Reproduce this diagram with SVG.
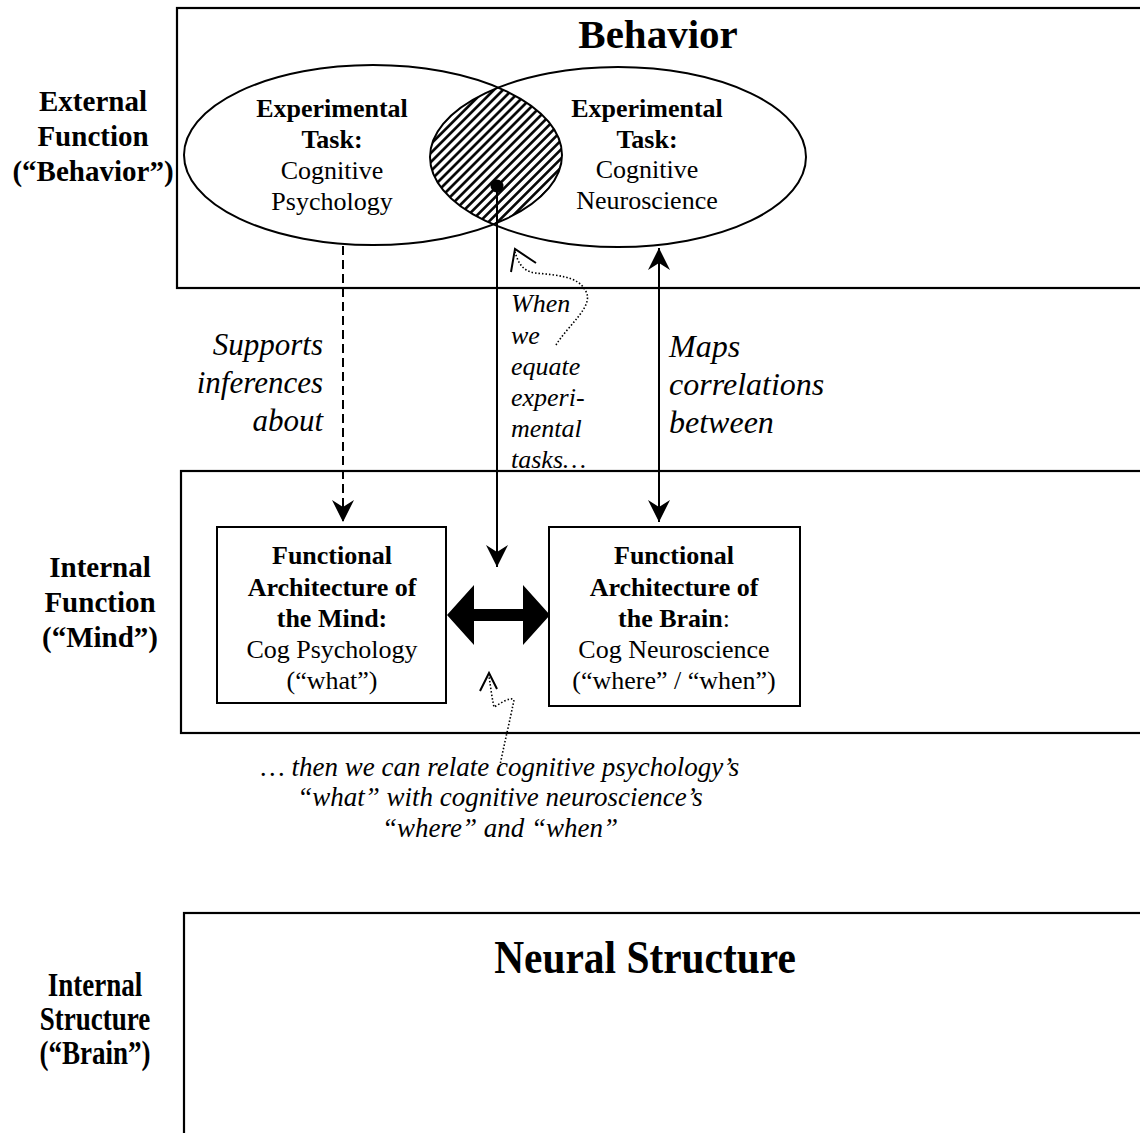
<svg xmlns="http://www.w3.org/2000/svg" width="1140" height="1133" viewBox="0 0 1140 1133">
<style>
  .frame { fill: #fff; stroke: #000; stroke-width: 2.2; }
  .box { fill: #fff; stroke: #000; stroke-width: 2; }
  .ell { fill: none; stroke: #000; stroke-width: 2; }
  .b { font-family: "Liberation Serif", "Times New Roman", serif; font-weight: bold; fill: #000; }
  .r { font-family: "Liberation Serif", "Times New Roman", serif; fill: #000; }
  .i { font-family: "Liberation Serif", "Times New Roman", serif; font-style: italic; fill: #000; }
  .c { text-anchor: middle; }
  .line { fill: none; stroke: #000; stroke-width: 2; }
  .dot { fill: none; stroke: #000; stroke-width: 1.6; stroke-dasharray: 1.5 2; }
</style>
<defs>
  <pattern id="hatch" patternUnits="userSpaceOnUse" width="10" height="6.4" patternTransform="rotate(-45)">
    <rect width="10" height="6.4" fill="#fff"/>
    <line x1="0" y1="3.2" x2="10" y2="3.2" stroke="#000" stroke-width="2.6"/>
  </pattern>
  <clipPath id="leftEll">
    <ellipse cx="373" cy="155" rx="189" ry="90"/>
  </clipPath>
  <marker id="ah" markerUnits="userSpaceOnUse" markerWidth="26" markerHeight="26" viewBox="-24 -12 26 24" refX="0" refY="0" orient="auto-start-reverse">
    <path d="M0,0 L-22,-11 L-15,0 L-22,11 Z" fill="#000"/>
  </marker>
</defs>

<rect width="1140" height="1133" fill="#fff"/>

<!-- Row frames -->
<g id="behavior-frame">
  <rect class="frame" x="177" y="8" width="1000" height="280"/>
  <text class="b c" x="658" y="48" font-size="41">Behavior</text>
</g>
<g id="mind-frame">
  <rect class="frame" x="181" y="471" width="1000" height="262"/>
</g>
<g id="neural-frame">
  <rect class="frame" x="184" y="913" width="1000" height="260"/>
  <text class="b c" x="0" y="0" font-size="46" transform="translate(645 973) scale(0.9 1)">Neural Structure</text>
</g>

<!-- Row labels -->
<g id="label-external">
  <text class="b c" x="93" y="111" font-size="29">External</text>
  <text class="b c" x="93" y="146" font-size="29">Function</text>
  <text class="b c" x="93" y="181" font-size="29">(“Behavior”)</text>
</g>
<g id="label-internal-function">
  <text class="b c" x="100" y="577" font-size="29">Internal</text>
  <text class="b c" x="100" y="612" font-size="29">Function</text>
  <text class="b c" x="100" y="647" font-size="29">(“Mind”)</text>
</g>
<g id="label-internal-structure">
  <text class="b c" font-size="33" transform="translate(95 996) scale(0.82 1)">Internal</text>
  <text class="b c" font-size="33" transform="translate(95 1030) scale(0.82 1)">Structure</text>
  <text class="b c" font-size="33" transform="translate(95 1064) scale(0.82 1)">(“Brain”)</text>
</g>

<!-- Ellipses (Venn) -->
<g id="task-overlap">
  <ellipse cx="618" cy="157" rx="188" ry="90" fill="url(#hatch)" clip-path="url(#leftEll)"/>
</g>
<g id="task-cogpsych">
  <ellipse class="ell" cx="373" cy="155" rx="189" ry="90"/>
  <text class="b c" x="332" y="117" font-size="26">Experimental</text>
  <text class="b c" x="332" y="148" font-size="26">Task:</text>
  <text class="r c" x="332" y="179" font-size="26">Cognitive</text>
  <text class="r c" x="332" y="210" font-size="26">Psychology</text>
</g>
<g id="task-cogneuro">
  <ellipse class="ell" cx="618" cy="157" rx="188" ry="90"/>
  <text class="b c" x="647" y="117" font-size="26">Experimental</text>
  <text class="b c" x="647" y="148" font-size="26">Task:</text>
  <text class="r c" x="647" y="178" font-size="26">Cognitive</text>
  <text class="r c" x="647" y="209" font-size="26">Neuroscience</text>
</g>

<!-- Inner boxes -->
<g id="arch-mind">
  <rect class="box" x="217" y="527" width="229" height="176"/>
  <text class="b c" x="332" y="564" font-size="26">Functional</text>
  <text class="b c" x="332" y="596" font-size="26">Architecture of</text>
  <text class="b c" x="332" y="627" font-size="26">the Mind:</text>
  <text class="r c" x="332" y="658" font-size="26">Cog Psychology</text>
  <text class="r c" x="332" y="689" font-size="26">(“what”)</text>
</g>
<g id="arch-brain">
  <rect class="box" x="549" y="527" width="251" height="179"/>
  <text class="b c" x="674" y="564" font-size="26">Functional</text>
  <text class="b c" x="674" y="596" font-size="26">Architecture of</text>
  <text class="c" x="674" y="627" font-size="26"><tspan class="b">the Brain</tspan><tspan class="r">:</tspan></text>
  <text class="r c" x="674" y="658" font-size="26">Cog Neuroscience</text>
  <text class="r c" x="674" y="689" font-size="26">(“where” / “when”)</text>
</g>

<!-- Connectors -->
<g id="connectors">
  <line class="line" x1="343" y1="246" x2="343" y2="522" stroke-dasharray="9 5" marker-end="url(#ah)"/>
  <circle cx="497" cy="186" r="6.5" fill="#000"/>
  <line class="line" x1="497" y1="186" x2="497" y2="567" marker-end="url(#ah)"/>
  <line class="line" x1="659" y1="248" x2="659" y2="522" marker-start="url(#ah)" marker-end="url(#ah)"/>
  <polygon points="447,615 474,585 474,609 523,609 523,585 550,615 523,645 523,621 474,621 474,645" fill="#000"/>
  <!-- upper dotted pointer -->
  <path class="dot" d="M556,345 C568,325 596,305 585,290 C578,276 555,275 535,273 C522,271 518,262 515,252"/>
  <path class="line" d="M511,272 L515,249 L536,263" stroke-width="1.8"/>
  <!-- lower dotted pointer -->
  <path class="dot" d="M499,770 C504,745 510,720 514,700 C510,696 500,704 494,707 C492,698 491,690 489,676"/>
  <path class="line" d="M480,691 L489,673 L497,689" stroke-width="1.8"/>
</g>

<!-- Connector labels -->
<g id="label-supports">
  <text class="i" x="323" y="355" font-size="31" text-anchor="end">Supports</text>
  <text class="i" x="323" y="393" font-size="31" text-anchor="end">inferences</text>
  <text class="i" x="323" y="431" font-size="31" text-anchor="end">about</text>
</g>
<g id="label-maps">
  <text class="i" x="669" y="357" font-size="32">Maps</text>
  <text class="i" x="669" y="395" font-size="32">correlations</text>
  <text class="i" x="669" y="433" font-size="32">between</text>
</g>
<g id="label-when">
  <text class="i" x="511" y="312" font-size="26">When</text>
  <text class="i" x="511" y="344" font-size="26">we</text>
  <text class="i" x="511" y="375" font-size="26">equate</text>
  <text class="i" x="511" y="406" font-size="26">experi-</text>
  <text class="i" x="511" y="437" font-size="26">mental</text>
  <text class="i" x="511" y="468" font-size="26">tasks<tspan class="r">…</tspan></text>
</g>
<g id="label-then">
  <text class="i c" x="500" y="776" font-size="27"><tspan class="r">… </tspan>then we can relate cognitive psychology’s</text>
  <text class="i c" x="500" y="806" font-size="27">“what” with cognitive neuroscience’s</text>
  <text class="i c" x="500" y="837" font-size="27">“where” and “when”</text>
</g>
</svg>
